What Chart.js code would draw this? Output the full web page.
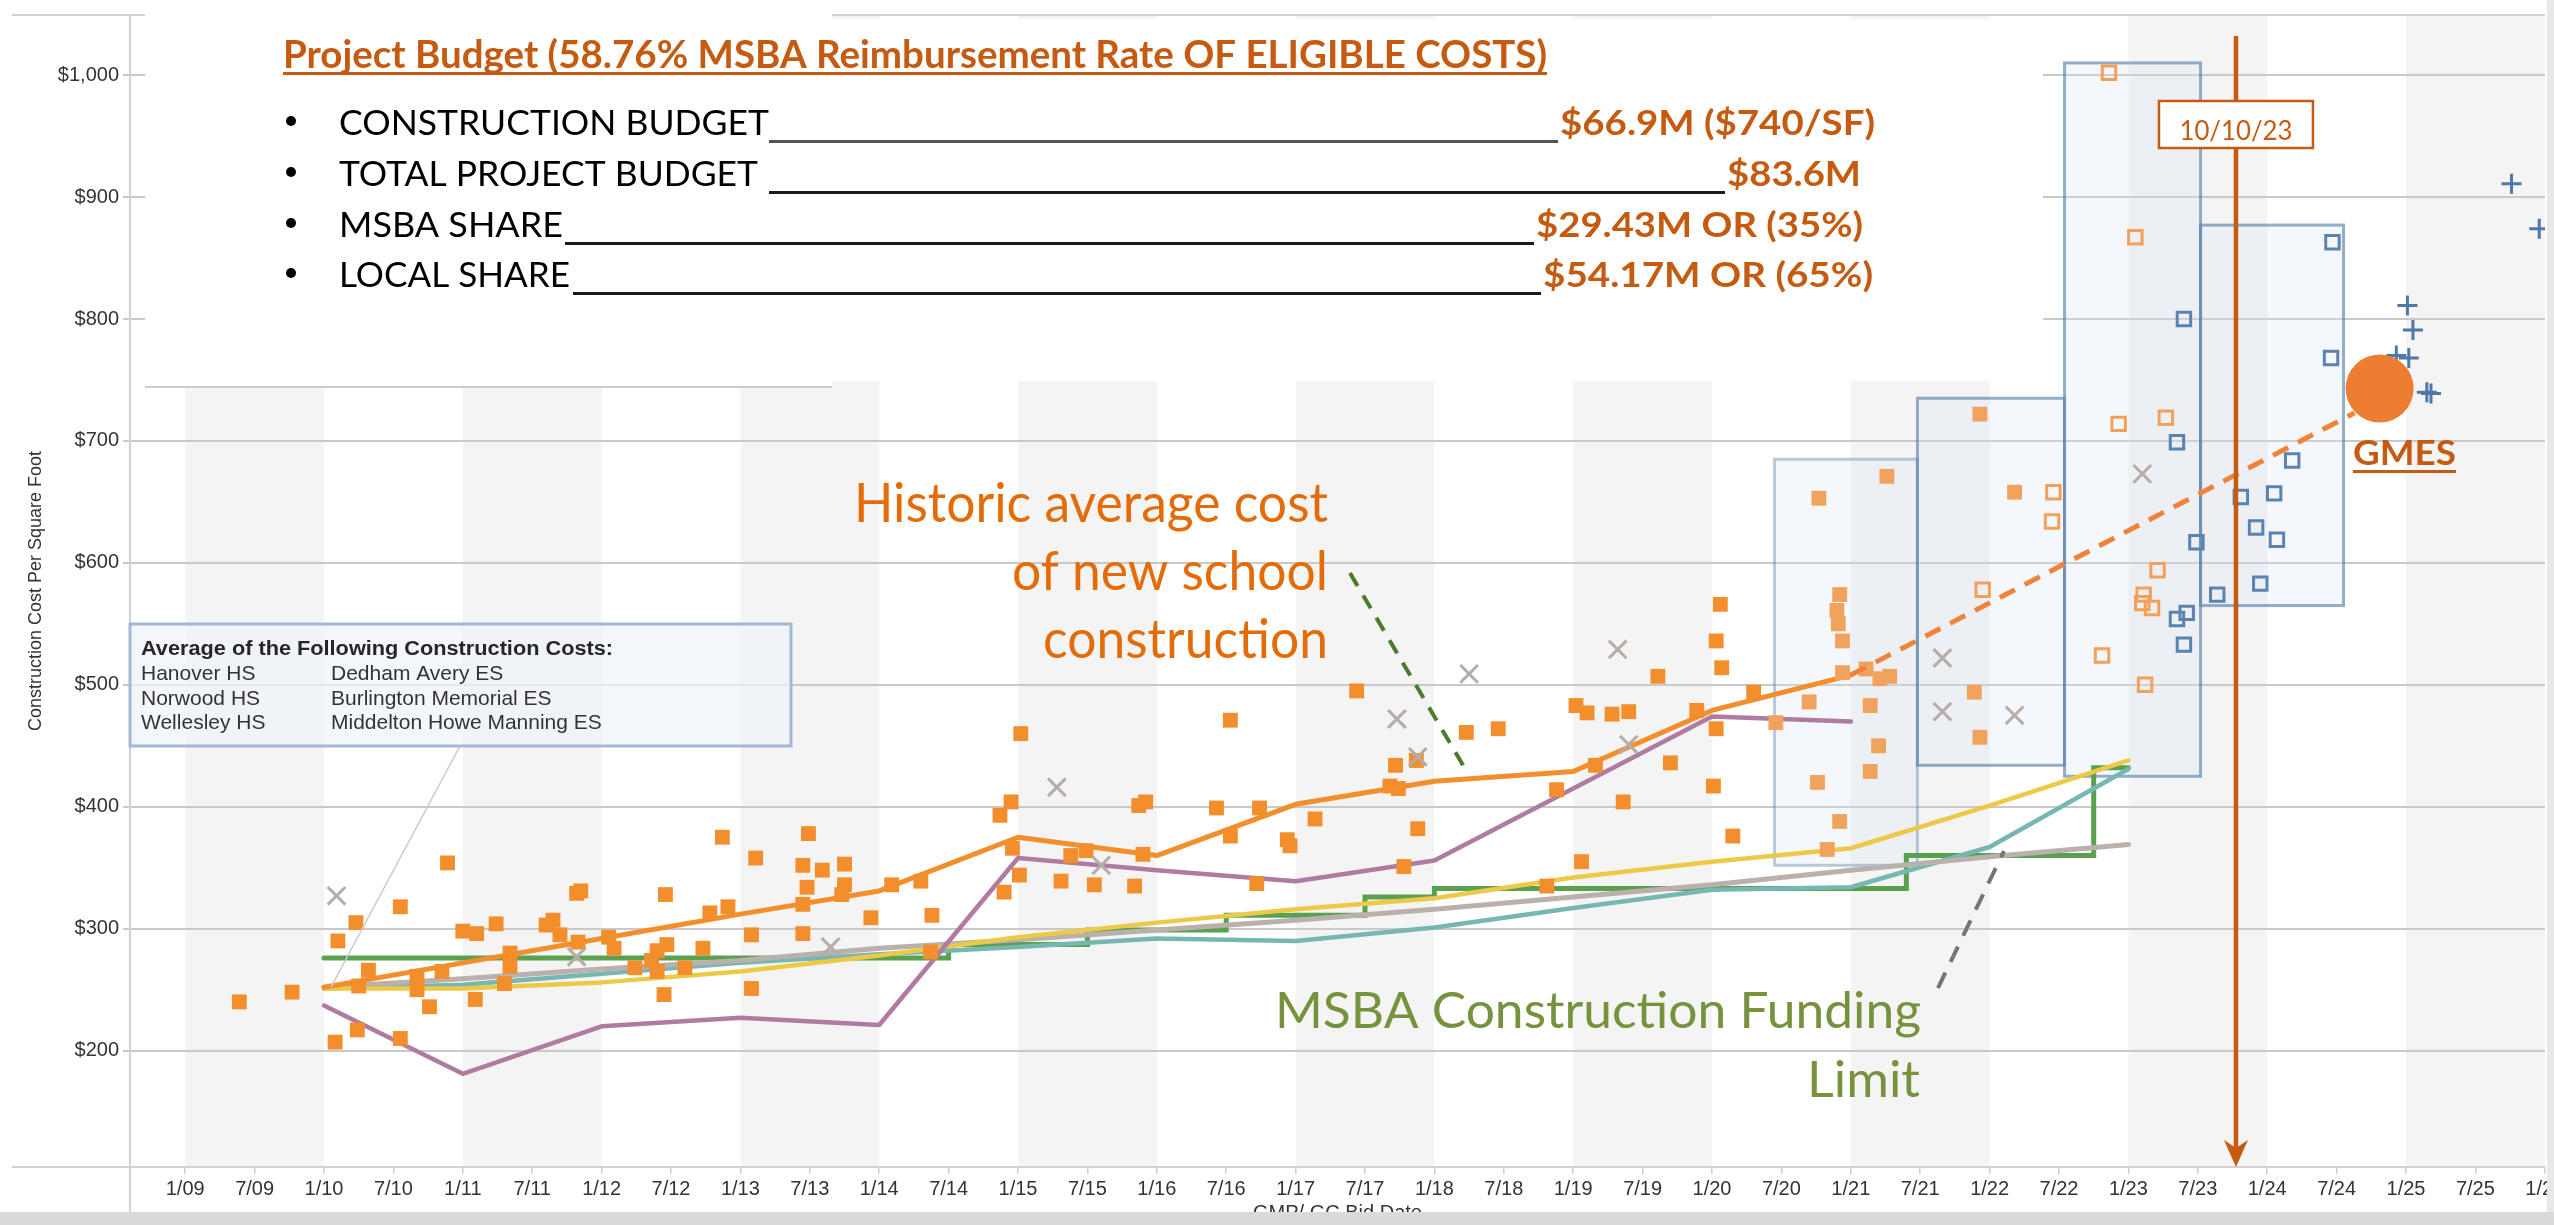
<!DOCTYPE html>
<html lang="en">
<head>
<meta charset="UTF-8">
<title>Construction Cost Per Square Foot</title>
<style>
  html, body { margin: 0; padding: 0; background: #ffffff; }
  .wrap { position: relative; width: 2554px; height: 1225px; overflow: hidden; }
  canvas { display: block; }
</style>
<script src="https://cdn.jsdelivr.net/npm/chart.js@4.4.1/dist/chart.umd.min.js"></script>
</head>
<body>
<div class="wrap"><canvas id="costChart" width="2554" height="1225"></canvas></div>
<script>
// ---- axis ticks ----
const xTickLabels = ['1/09','7/09','1/10','7/10','1/11','7/11','1/12','7/12','1/13','7/13','1/14','7/14',
  '1/15','7/15','1/16','7/16','1/17','7/17','1/18','7/18','1/19','7/19','1/20','7/20','1/21','7/21',
  '1/22','7/22','1/23','7/23','1/24','7/24','1/25','7/25','1/26'];
const xTickValues = xTickLabels.map((l, i) => 2009 + i / 2);
const yTickValues = [200, 300, 400, 500, 600, 700, 800, 900, 1000];
const shadedYears = [2009, 2011, 2013, 2015, 2017, 2019, 2021, 2023, 2025];

// ---- average lines (bid year, $/SF) ----
const avgYears = [2010, 2011, 2012, 2013, 2014, 2015, 2016, 2017, 2018, 2019, 2020, 2021];
const avgCost = [252, 272, 292, 312, 331, 375, 360, 402, 421, 429, 479, 508];
const purpleCost = [237, 181, 220, 227, 221, 358, 348, 339, 356, 415, 474, 470];
const trendYears = [2010, 2011, 2012, 2013, 2014, 2015, 2016, 2017, 2018, 2019, 2020, 2021, 2022, 2023];
const yellowCost = [251, 251, 256, 265, 278, 293, 305, 316, 325, 342, 355, 366, 401, 438];
const grayCost = [252, 259, 267, 274, 284, 291, 299, 307, 316, 326, 336, 348, 359, 369];
const tealCost = [251, 254, 263, 272, 279, 285, 292, 290, 301, 317, 332, 334, 367, 431];
const msbaDates = [2010.0, 2014.5, 2015.5, 2016.5, 2017.5, 2018.0, 2021.4, 2022.75, 2023.0];
const msbaLimit = [276, 287, 299, 311, 326, 333, 360, 432, 432];

// ---- projects ----
const historicDates = [2009.39, 2009.77, 2010.08, 2010.10, 2010.23, 2010.24, 2010.25, 2010.32, 2010.55, 2010.55,
  2010.67, 2010.67, 2010.76, 2010.85, 2010.89, 2011.00, 2011.09, 2011.10, 2011.24, 2011.30,
  2011.34, 2011.34, 2011.60, 2011.65, 2011.70, 2011.82, 2011.85, 2011.83, 2012.05, 2012.09,
  2012.24, 2012.36, 2012.40, 2012.40, 2012.45, 2012.46, 2012.47, 2012.60, 2012.73, 2012.78,
  2012.87, 2012.91, 2013.08, 2013.08, 2013.11, 2013.45, 2013.45, 2013.45, 2013.48, 2013.49,
  2013.59, 2013.73, 2013.75, 2013.75, 2013.94, 2014.09, 2014.30, 2014.37, 2014.38, 2014.87,
  2014.90, 2014.95, 2014.96, 2015.01, 2015.02, 2015.31, 2015.38, 2015.49, 2015.55, 2015.84,
  2015.87, 2015.90, 2015.92, 2016.43, 2016.53, 2016.53, 2016.72, 2016.74, 2016.94, 2016.96,
  2017.14, 2017.44, 2017.68, 2017.72, 2017.74, 2017.78, 2017.87, 2017.88, 2018.23, 2018.46,
  2018.81, 2018.88, 2019.02, 2019.06, 2019.10, 2019.16, 2019.28, 2019.36, 2019.40, 2019.61,
  2019.70, 2019.89, 2020.01, 2020.03, 2020.03, 2020.06, 2020.07, 2020.15, 2020.30];
const historicCost = [240, 248, 207, 290, 305, 217, 253, 266, 210, 318,
  261, 250, 236, 265, 354, 298, 242, 296, 304, 255,
  280, 269, 303, 307, 295, 329, 331, 289, 293, 284,
  268, 274, 265, 282, 246, 328, 287, 268, 284, 313,
  375, 318, 295, 251, 358, 352, 320, 296, 334, 378,
  348, 328, 353, 336, 309, 336, 339, 281, 311, 393,
  330, 404, 366, 344, 460, 339, 360, 364, 336, 335,
  401, 361, 404, 399, 471, 376, 337, 399, 373, 368,
  390, 495, 417, 434, 415, 351, 438, 382, 461, 464,
  335, 414, 483, 355, 477, 434, 476, 404, 478, 507,
  436, 479, 417, 536, 464, 566, 514, 376, 494];
const recentDates = [2020.46, 2020.70, 2020.76, 2020.77, 2020.83, 2020.90, 2020.91, 2020.92, 2020.92, 2020.94,
  2020.94, 2021.11, 2021.14, 2021.14, 2021.20, 2021.21, 2021.26, 2021.28, 2021.89, 2021.93,
  2021.93, 2022.18];
const recentCost = [469, 486, 420, 653, 365, 561, 550, 574, 388, 536,
  510, 513, 483, 429, 450, 505, 671, 507, 494, 457,
  722, 658];
const openOrangeDates = [2021.95, 2022.45, 2022.46, 2022.81, 2022.86, 2022.93, 2023.05, 2023.10, 2023.11, 2023.12, 2023.17, 2023.21, 2023.27];
const openOrangeCost = [578, 634, 658, 524, 1002, 714, 867, 567, 574, 500, 563, 594, 719];
const openBlueDates = [2023.35, 2023.35, 2023.40, 2023.40, 2023.42, 2023.49, 2023.64, 2023.81, 2023.92, 2023.95, 2024.05, 2024.07, 2024.18, 2024.46, 2024.47];
const openBlueCost = [699, 554, 800, 533, 559, 617, 574, 654, 629, 583, 657, 619, 684, 768, 863];
const plusDates = [2024.93, 2025.01, 2025.02, 2025.05, 2025.15, 2025.18, 2025.76, 2025.96];
const plusCost = [770, 811, 768, 791, 740, 739, 911, 874];
const crossDates = [2010.09, 2011.82, 2013.65, 2015.28, 2015.60, 2017.73, 2017.88, 2018.25, 2019.32, 2019.40, 2021.66, 2021.66, 2022.18, 2023.10];
const crossCost = [327, 277, 285, 416, 352, 472, 441, 509, 529, 451, 522, 478, 475, 673];

// ---- projection to GMES ----
const projDates = [2021.0, 2024.63];
const projCost = [508, 723];
const gmesDate = [2024.81];
const gmesCost = [743];
const bidMarkerDate = 2023.775;   // 10/10/23

// ---- project range boxes ----
const boxStart = [2020.45, 2021.48, 2022.54, 2023.52];
const boxEnd = [2021.48, 2022.54, 2023.52, 2024.55];
const boxLow = [352, 434, 425, 565];
const boxHigh = [685, 735, 1010, 877];

// ---- text ----
const budgetTitle = 'Project Budget (58.76% MSBA Reimbursement Rate OF ELIGIBLE COSTS)';
const budgetLabels = ['CONSTRUCTION BUDGET', 'TOTAL PROJECT BUDGET', 'MSBA SHARE', 'LOCAL SHARE'];
const budgetValues = ['$66.9M ($740/SF)', '$83.6M', '$29.43M OR (35%)', '$54.17M OR (65%)'];
const avgSchoolsHS = ['Hanover HS', 'Norwood HS', 'Wellesley HS'];
const avgSchoolsES = ['Dedham Avery ES', 'Burlington Memorial ES', 'Middelton Howe Manning ES'];

const SANS = '"Liberation Sans", Arial, sans-serif';
const CAL = 'Lato, "Open Sans", sans-serif';

function pts(xs, ys) {
  return xs.map((v, i) => ({ x: v, y: ys[i] }));
}

// draw text squeezed/stretched to a target width (Calibri-like)
function fitText(ctx, text, x, y, width, font, color) {
  ctx.save();
  ctx.font = font;
  ctx.fillStyle = color;
  ctx.textAlign = 'left';
  ctx.textBaseline = 'alphabetic';
  const w = ctx.measureText(text).width;
  ctx.translate(x, y);
  ctx.scale(width / w, 1);
  ctx.fillText(text, 0, 0);
  ctx.restore();
}

function dashedLine(ctx, x0, y0, x1, y1, color, width, dash) {
  ctx.save();
  ctx.strokeStyle = color;
  ctx.lineWidth = width;
  ctx.setLineDash(dash);
  ctx.beginPath();
  ctx.moveTo(x0, y0);
  ctx.lineTo(x1, y1);
  ctx.stroke();
  ctx.restore();
}

const backgroundBands = {
  id: 'backgroundBands',
  beforeDraw(chart) {
    const { ctx, chartArea: a, scales: { x } } = chart;
    ctx.save();
    ctx.fillStyle = '#ffffff';
    ctx.fillRect(0, 0, chart.width, chart.height);
    ctx.fillStyle = '#f4f4f4';
    shadedYears.forEach(yr => {
      const x0 = Math.max(x.getPixelForValue(yr), a.left);
      const x1 = Math.min(x.getPixelForValue(yr + 1), a.right);
      ctx.fillRect(x0, a.top, x1 - x0, a.bottom - a.top);
    });
    ctx.restore();
  }
};

const panelsAndBoxes = {
  id: 'panelsAndBoxes',
  beforeDatasetsDraw(chart) {
    const { ctx, chartArea: a, scales: { x, y } } = chart;
    ctx.save();
    // frame bits around the plot
    ctx.fillStyle = '#d2d2d2';
    ctx.fillRect(12, 14, a.right - 12, 2);
    ctx.fillRect(12, a.bottom - 1, a.left - 12, 2);
    ctx.fillRect(a.left - 1, a.bottom, 2, 46);
    // white panel behind the budget text
    ctx.fillStyle = '#ffffff';
    ctx.fillRect(145, 10, 687, 377);
    ctx.fillRect(832, 19, 1211, 362);
    ctx.fillStyle = '#cdcdcd';
    ctx.fillRect(145, 386, 687, 2);
    // project range boxes
    boxStart.forEach((s, i) => {
      const x0 = x.getPixelForValue(s), x1 = x.getPixelForValue(boxEnd[i]);
      const y0 = y.getPixelForValue(boxHigh[i]), y1 = y.getPixelForValue(boxLow[i]);
      ctx.fillStyle = 'rgba(214,226,240,0.28)';
      ctx.fillRect(x0, y0, x1 - x0, y1 - y0);
      ctx.strokeStyle = i === 0 ? 'rgba(78,121,167,0.38)' : 'rgba(78,121,167,0.6)';
      ctx.lineWidth = 3;
      ctx.strokeRect(x0, y0, x1 - x0, y1 - y0);
    });
    ctx.restore();
  }
};

const annotations = {
  id: 'annotations',
  afterDraw(chart) {
    const { ctx, scales: { x, y } } = chart;
    ctx.save();

    // pointer from the legend box to the start of the average lines
    ctx.strokeStyle = '#c9c9c9';
    ctx.lineWidth = 1.5;
    ctx.beginPath();
    ctx.moveTo(460, 746);
    ctx.lineTo(x.getPixelForValue(2010.05), y.getPixelForValue(252));
    ctx.stroke();

    // legend box
    ctx.fillStyle = 'rgba(239,243,249,0.72)';
    ctx.fillRect(130, 624, 661, 122);
    ctx.strokeStyle = '#a3b8d3';
    ctx.lineWidth = 3;
    ctx.strokeRect(130, 624, 661, 122);
    fitText(ctx, 'Average of the Following Construction Costs:', 141, 655, 472, 'bold 20px ' + SANS, '#262626');
    ctx.font = '21px ' + SANS;
    ctx.fillStyle = '#333333';
    avgSchoolsHS.forEach((s, i) => ctx.fillText(s, 141, 680 + i * 24.5));
    avgSchoolsES.forEach((s, i) => ctx.fillText(s, 331, 680 + i * 24.5));

    // annotation pointers
    dashedLine(ctx, 1350, 573, 1467, 772, '#4b7b2b', 4, [15, 11]);
    dashedLine(ctx, 1938, 988, 2004, 851, '#757575', 4, [17, 12]);

    // bid date arrow
    const ax = x.getPixelForValue(bidMarkerDate);
    const axisY = chart.chartArea.bottom;
    ctx.strokeStyle = '#c55a11';
    ctx.fillStyle = '#c55a11';
    ctx.lineWidth = 4.5;
    ctx.beginPath();
    ctx.moveTo(ax, 36);
    ctx.lineTo(ax, axisY - 16);
    ctx.stroke();
    ctx.beginPath();
    ctx.moveTo(ax, axisY);
    ctx.lineTo(ax - 12, axisY - 27);
    ctx.lineTo(ax, axisY - 19);
    ctx.lineTo(ax + 12, axisY - 27);
    ctx.closePath();
    ctx.fill();
    ctx.fillStyle = '#ffffff';
    ctx.fillRect(ax - 77, 101, 154, 47);
    ctx.lineWidth = 2.5;
    ctx.strokeRect(ax - 77, 101, 154, 47);
    fitText(ctx, '10/10/23', ax - 56.5, 140, 113, '26px ' + CAL, '#c55a11');

    // GMES label
    fitText(ctx, 'GMES', 2353, 465, 103, 'bold 35px ' + CAL, '#c55a11');
    ctx.fillStyle = '#c55a11';
    ctx.fillRect(2353, 470, 103, 3);

    // budget block
    fitText(ctx, budgetTitle, 283, 68, 1264, 'bold 39px ' + CAL, '#c55a11');
    ctx.fillStyle = '#c55a11';
    ctx.fillRect(283, 72, 1264, 3);
    const base = [135, 186, 237, 287];
    const labelW = [430, 419, 224, 231];
    const lineStart = [769, 769, 565, 573];
    const valueX = [1560, 1727, 1536, 1543];
    const valueW = [315, 134, 327, 330];
    budgetLabels.forEach((lab, i) => {
      ctx.fillStyle = '#000000';
      ctx.beginPath();
      ctx.arc(291, base[i] - 14, 5, 0, Math.PI * 2);
      ctx.fill();
      fitText(ctx, lab, 339, base[i], labelW[i], '35px ' + CAL, '#000000');
      ctx.fillStyle = i === 0 ? '#555555' : '#1a1a1a';
      ctx.fillRect(lineStart[i], base[i] + 5, valueX[i] - lineStart[i] - 2, 3);
      fitText(ctx, budgetValues[i], valueX[i], base[i], valueW[i], 'bold 35px ' + CAL, '#c55a11');
    });

    // orange annotation
    const hist = ['Historic average cost', 'of new school', 'construction'];
    const histW = [474, 316, 285];
    hist.forEach((t, i) => fitText(ctx, t, 1328 - histW[i], 522 + i * 68, histW[i], '55px ' + CAL, '#e36c09'));

    // green annotation
    fitText(ctx, 'MSBA Construction Funding', 1275, 1028, 646, '51px ' + CAL, '#76923c');
    fitText(ctx, 'Limit', 1920 - 113, 1097, 113, '51px ' + CAL, '#76923c');

    // page edges
    ctx.fillStyle = '#dadada';
    ctx.fillRect(0, 1212, chart.width, 13);
    ctx.fillStyle = '#e8e8e8';
    ctx.fillRect(2547, 0, 7, 1212);
    ctx.restore();
  }
};

const lineStyle = { showLine: true, pointRadius: 0, tension: 0, borderJoinStyle: 'round', borderCapStyle: 'round' };

const ctx = document.getElementById('costChart').getContext('2d');
const chart = new Chart(ctx, {
  type: 'scatter',
  data: {
    datasets: [
      { label: 'GMES', data: pts(gmesDate, gmesCost), pointStyle: 'circle', pointRadius: 34,
        pointBackgroundColor: '#ed7d31', pointBorderWidth: 0 },
      { label: 'Projection', data: pts(projDates, projCost), showLine: true, pointRadius: 0,
        borderColor: '#f0833a', borderWidth: 5, borderDash: [17, 11] },
      { label: 'Future bids', data: pts(plusDates, plusCost), pointStyle: 'cross', pointRadius: 10,
        pointBorderColor: '#4e79a7', pointBorderWidth: 3 },
      { label: 'Upcoming bids', data: pts(openBlueDates, openBlueCost), pointStyle: 'rect', pointRadius: 9.5,
        pointBackgroundColor: 'rgba(255,255,255,0)', pointBorderColor: '#5b83b0', pointBorderWidth: 3 },
      { label: 'Recent bids', data: pts(openOrangeDates, openOrangeCost), pointStyle: 'rect', pointRadius: 9.5,
        pointBackgroundColor: 'rgba(255,255,255,0)', pointBorderColor: '#f2a05a', pointBorderWidth: 3 },
      { label: 'Other', data: pts(crossDates, crossCost), pointStyle: 'crossRot', pointRadius: 12.5,
        pointBorderColor: '#b7aca8', pointBorderWidth: 3 },
      { label: 'Historic projects', data: pts(historicDates, historicCost), pointStyle: 'rect', pointRadius: 10.5,
        pointBackgroundColor: '#f28e2b', pointBorderWidth: 0 },
      { label: 'Projects 2020-22', data: pts(recentDates, recentCost), pointStyle: 'rect', pointRadius: 10.5,
        pointBackgroundColor: '#f0a35c', pointBorderWidth: 0 },
      { label: 'Average', data: pts(avgYears, avgCost), ...lineStyle, borderColor: '#f28e2b', borderWidth: 5 },
      { label: 'Purple', data: pts(avgYears, purpleCost), ...lineStyle, borderColor: '#b07aa1', borderWidth: 4.5 },
      { label: 'Yellow', data: pts(trendYears, yellowCost), ...lineStyle, borderColor: '#edc948', borderWidth: 4.5 },
      { label: 'Gray', data: pts(trendYears, grayCost), ...lineStyle, borderColor: '#bab0ac', borderWidth: 5 },
      { label: 'Teal', data: pts(trendYears, tealCost), ...lineStyle, borderColor: '#76b7b2', borderWidth: 4.5 },
      { label: 'MSBA limit', data: pts(msbaDates, msbaLimit), ...lineStyle, stepped: true,
        borderColor: '#59a14f', borderWidth: 5, borderJoinStyle: 'miter' }
    ]
  },
  options: {
    responsive: false,
    animation: false,
    events: [],
    // the big GMES dot would otherwise make Chart.js pad the plot area
    layout: { autoPadding: false, padding: { left: 0, right: 9, top: 15, bottom: 0 } },
    plugins: { legend: { display: false }, tooltip: { enabled: false } },
    scales: {
      x: {
        type: 'linear',
        min: 2008.6023,
        max: 2026.0014,
        afterBuildTicks: s => { s.ticks = xTickValues.map(v => ({ value: v })); },
        afterFit: s => { s.height = 58; s.paddingLeft = 0; s.paddingRight = 0; },
        ticks: {
          autoSkip: false, maxRotation: 0, minRotation: 0, padding: 3,
          color: '#333333', font: { family: SANS, size: 20 },
          callback: (v, i) => xTickLabels[i]
        },
        grid: { drawOnChartArea: false, drawTicks: true, tickLength: 7, color: '#cfcfcf', lineWidth: 1.5 },
        border: { display: true, color: '#d2d2d2', width: 2 },
        title: { display: true, text: 'GMP/ GC Bid Date', color: '#333333',
          font: { family: SANS, size: 20 }, padding: { top: 4, bottom: 0 } }
      },
      y: {
        type: 'linear',
        min: 104.6,
        max: 1049.3,
        afterBuildTicks: s => { s.ticks = yTickValues.map(v => ({ value: v })); },
        afterFit: s => { s.width = 130; s.paddingTop = 0; s.paddingBottom = 0; },
        ticks: {
          padding: 4, color: '#333333', font: { family: SANS, size: 20 },
          callback: v => '$' + v.toLocaleString('en-US')
        },
        grid: { color: '#c9c9c9', lineWidth: 2, tickLength: 7 },
        border: { display: true, color: '#d2d2d2', width: 2 },
        title: { display: true, text: 'Construction Cost Per Square Foot', color: '#333333',
          font: { family: SANS, size: 18 }, padding: { top: 25, bottom: 0 } }
      }
    }
  },
  plugins: [backgroundBands, panelsAndBoxes, annotations]
});
</script>
</body>
</html>
